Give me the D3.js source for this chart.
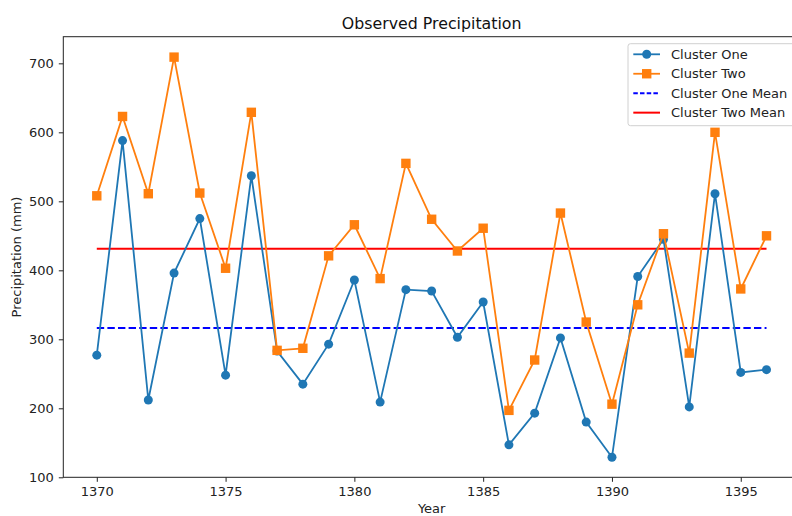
<!doctype html>
<html>
<head>
<script src="https://d3js.org/d3.v7.min.js"></script>
<style>
  body { margin: 0; background: #fff; }
  svg { font-family: "DejaVu Sans", sans-serif; }
</style>
</head>
<body>
<svg width="792" height="516" id="chart"></svg>
<script>
// data
var years = d3.range(1370, 1397);
var clusterOne = [277, 588, 212, 396, 475, 248, 537, 283, 235, 293, 386, 209, 372, 370,
                  303, 354, 147, 193, 302, 180, 129, 391, 445, 202, 511, 252, 256];
var clusterTwo = [508, 623, 511, 709, 512, 403, 629, 284, 287, 421, 466, 388, 555, 474,
                  428, 461, 197, 270, 483, 325, 206, 350, 453, 280, 600, 373, 450];
var xTicks = [1370, 1375, 1380, 1385, 1390, 1395];
var yTicks = [100, 200, 300, 400, 500, 600, 700];

var svg = d3.select("#chart");
var plotL = 63.3, plotR = 800, plotT = 36.7, plotB = 477.3;

var x = d3.scaleLinear().domain([1368.7, 1397.3]).range([plotL, plotR]);
var y = d3.scaleLinear().domain([100, 738.6]).range([plotB, plotT]);

var meanOne = d3.mean(clusterOne), meanTwo = d3.mean(clusterTwo);

// axes
var gx = svg.append("g")
  .attr("transform", "translate(0," + plotB + ")")
  .call(d3.axisBottom(x).tickValues(xTicks).tickFormat(d3.format("d")).tickSize(4.5).tickPadding(5));
var gy = svg.append("g")
  .attr("transform", "translate(" + plotL + ",0)")
  .call(d3.axisLeft(y).tickValues(yTicks).tickSize(4.5).tickPadding(5));
[gx, gy].forEach(function (g) {
  g.select(".domain").remove();
  g.selectAll("text").style("font-size", "13px").attr("fill", "#222").attr("font-family", "DejaVu Sans");
  g.selectAll("line").attr("stroke", "#222");
});

// frame
svg.append("rect")
  .attr("x", plotL).attr("y", plotT)
  .attr("width", plotR - plotL).attr("height", plotB - plotT)
  .attr("fill", "none").attr("stroke", "#222").attr("stroke-width", 1);

var line = d3.line().x(function (d, i) { return x(years[i]); }).y(function (d) { return y(d); });

// mean lines
svg.append("line")
  .attr("x1", x(years[0])).attr("x2", x(years[years.length - 1]))
  .attr("y1", y(meanOne)).attr("y2", y(meanOne))
  .attr("stroke", "blue").attr("stroke-width", 2).attr("stroke-dasharray", "7.4,3.2");
svg.append("line")
  .attr("x1", x(years[0])).attr("x2", x(years[years.length - 1]))
  .attr("y1", y(meanTwo)).attr("y2", y(meanTwo))
  .attr("stroke", "red").attr("stroke-width", 2);

// cluster one
svg.append("path").datum(clusterOne)
  .attr("d", line).attr("fill", "none").attr("stroke", "#1f77b4").attr("stroke-width", 1.8);
svg.append("g").selectAll("circle").data(clusterOne).enter().append("circle")
  .attr("cx", function (d, i) { return x(years[i]); })
  .attr("cy", function (d) { return y(d); })
  .attr("r", 4.5).attr("fill", "#1f77b4");

// cluster two
svg.append("path").datum(clusterTwo)
  .attr("d", line).attr("fill", "none").attr("stroke", "#ff7f0e").attr("stroke-width", 1.8);
svg.append("g").selectAll("rect").data(clusterTwo).enter().append("rect")
  .attr("x", function (d, i) { return x(years[i]) - 4.7; })
  .attr("y", function (d) { return y(d) - 4.7; })
  .attr("width", 9.4).attr("height", 9.4).attr("fill", "#ff7f0e");

// titles
svg.append("text").attr("x", (plotL + plotR) / 2).attr("y", 28.5)
  .attr("text-anchor", "middle").style("font-size", "15.8px").attr("fill", "#111")
  .text("Observed Precipitation");
svg.append("text").attr("x", (plotL + plotR) / 2).attr("y", 513)
  .attr("text-anchor", "middle").style("font-size", "13px").attr("fill", "#222")
  .text("Year");
svg.append("text").attr("transform", "translate(21," + (plotT + plotB) / 2 + ") rotate(-90)")
  .attr("text-anchor", "middle").style("font-size", "13px").attr("fill", "#222")
  .text("Precipitation (mm)");

// legend
var legendItems = [
  { label: "Cluster One", color: "#1f77b4", marker: "circle", dash: null },
  { label: "Cluster Two", color: "#ff7f0e", marker: "square", dash: null },
  { label: "Cluster One Mean", color: "blue", marker: null, dash: "4.5,2.2" },
  { label: "Cluster Two Mean", color: "red", marker: null, dash: null }
];
var lg = svg.append("g");
lg.append("rect").attr("x", 628).attr("y", 43.7).attr("width", 180).attr("height", 82)
  .attr("rx", 2.5).attr("fill", "#fff").attr("fill-opacity", 0.8)
  .attr("stroke", "#d0d0d0").attr("stroke-width", 1);
legendItems.forEach(function (it, i) {
  var cy = 54.3 + i * 19.45;
  lg.append("line").attr("x1", 633.3).attr("x2", 660).attr("y1", cy).attr("y2", cy)
    .attr("stroke", it.color).attr("stroke-width", it.marker ? 1.8 : 2)
    .attr("stroke-dasharray", it.dash);
  if (it.marker === "circle") {
    lg.append("circle").attr("cx", 646.7).attr("cy", cy).attr("r", 4.5).attr("fill", it.color);
  } else if (it.marker === "square") {
    lg.append("rect").attr("x", 646.7 - 4.7).attr("y", cy - 4.7).attr("width", 9.4).attr("height", 9.4).attr("fill", it.color);
  }
  lg.append("text").attr("x", 671).attr("y", cy + 4.7).style("font-size", "13px").attr("fill", "#222")
    .text(it.label);
});
</script>
</body>
</html>
